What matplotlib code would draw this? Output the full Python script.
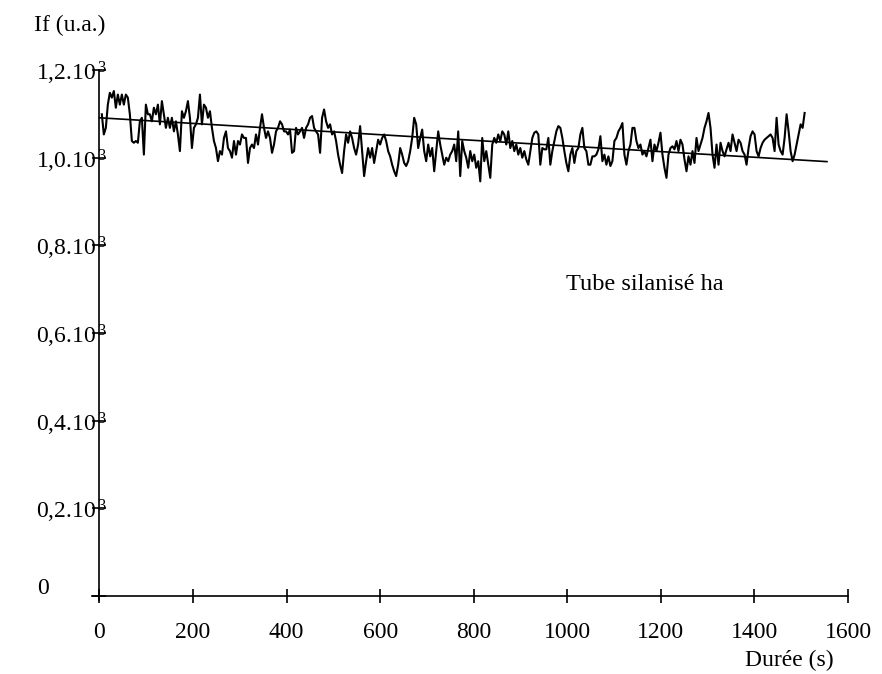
import matplotlib
matplotlib.use('Agg')
import matplotlib.pyplot as plt
from matplotlib.transforms import blended_transform_factory
import numpy as np

plt.rcParams['font.family'] = ['Liberation Serif', 'DejaVu Serif']
plt.rcParams['mathtext.fontset'] = 'custom'
plt.rcParams['mathtext.rm'] = 'Liberation Serif'
plt.rcParams['mathtext.it'] = 'Liberation Serif:italic'

# measured fluorescence, one reading every ~4.28 s starting at 5 s
t_start = 5.0
t_step = 4.28
intensity = [
    1099, 1053, 1068, 1121, 1148, 1137, 1152, 1114, 1144, 1121,
    1144, 1121, 1144, 1137, 1099, 1038, 1034, 1038, 1034, 1083,
    1091, 1007, 1121, 1099, 1099, 1083, 1114, 1099, 1121, 1076,
    1129, 1099, 1068, 1091, 1068, 1091, 1060, 1083, 1053, 1015,
    1106, 1091, 1106, 1129, 1091, 1022, 1068, 1076, 1091, 1144,
    1076, 1121, 1114, 1091, 1106, 1068, 1038, 1022, 992, 1015,
    1007, 1045, 1060, 1022, 1015, 1000, 1038, 1007, 1038, 1030,
    1053, 1045,
    1045, 988, 1022, 1030, 1022, 1053, 1030, 1068, 1099, 1068,
    1045, 1060, 1045, 1011, 1030, 1060, 1068, 1083, 1076, 1060,
    1060, 1053, 1064, 1011, 1015, 1068, 1053, 1060, 1068, 1045,
    1068, 1076, 1091, 1095, 1068, 1060, 1053, 1011, 1091, 1110,
    1083, 1068, 1076, 1053, 1060, 1038, 1007, 984, 965, 1015,
    1053, 1034, 1060, 1045, 1022, 1007, 1030, 1072, 1015, 958,
    992, 1022, 1000, 1022, 988, 1015, 1041, 1030, 1045, 1053,
    1038,
    1015, 1003, 984, 969, 958, 984, 1022, 1007, 988, 981,
    992, 1015, 1045, 1091, 1076, 1022, 1045, 1064, 1015, 992,
    1030, 1003, 1022, 969, 1015, 1060, 1030, 1007, 984, 1000,
    992, 1007, 1015, 1030, 992, 1060, 958, 1038, 1015, 1000,
    977, 1015, 992, 1007, 977, 992, 946, 1045, 992, 1015,
    984, 954, 1030, 1045, 1034, 1053, 1038, 1060, 1053, 1030,
    1060, 1022, 1038, 1015, 1030, 1007, 1022, 1000, 1015, 996,
    984,
    1015, 1045, 1057, 1060, 1053, 984, 1022, 1019, 1019, 1045,
    984, 1015, 1038, 1060, 1072, 1068, 1045, 1015, 988, 969,
    1007, 1022, 988, 1015, 1022, 1053, 1068, 1022, 1015, 984,
    984, 1003, 1003, 1007, 1019, 1049, 992, 1007, 984, 1003,
    981, 992, 1038, 1045, 1060, 1068, 1079, 1007, 984, 1015,
    1030, 1068, 1068, 1038, 1022, 1030, 1007, 1015, 1003, 1022,
    1041, 992, 1030, 1015, 1034, 1057, 1007, 977, 954, 1007,
    1022,
    1026, 1019, 1038, 1015, 1041, 1030, 996, 969, 1003, 984,
    1015, 988, 1045, 1015, 1030, 1045, 1068, 1083, 1102, 1068,
    1007, 977, 1030, 984, 1034, 1015, 1003, 1019, 1034, 1015,
    1053, 1034, 1015, 1041, 1034, 1015, 1007, 984, 1022, 1049,
    1060, 1053, 1015, 1003, 1022, 1034, 1041, 1045, 1049, 1053,
    1045, 1015, 1091, 1030, 1015, 1007, 1045, 1099, 1060, 1015,
    992, 1007, 1030, 1053, 1076, 1068, 1102,
]
time = t_start + t_step * np.arange(len(intensity))

# linear fit drawn in the figure
fit_time = [0, 1555]
fit_intensity = [1091, 991]

xticks = [0, 200, 400, 600, 800, 1000, 1200, 1400, 1600]
yticks = [0, 200, 400, 600, 800, 1000, 1200]
ylabels = ['', r'0,2.10$^{\,3}$', r'0,4.10$^{\,3}$', r'0,6.10$^{\,3}$',
           r'0,8.10$^{\,3}$', r'1,0.10$^{\,3}$', r'1,2.10$^{\,3}$']

fig = plt.figure(figsize=(8.82, 6.74), dpi=100)
ax = fig.add_axes([92 / 882, 1 - 600 / 674, (848 - 92) / 882, (600 - 70) / 674])

ax.plot(time, intensity, color='black', lw=1.5)
ax.plot(fit_time, fit_intensity, color='black', lw=1.2)

ax.set_xlim(-16, 1600)
ax.set_ylim(-9, 1200)
ax.spines['top'].set_visible(False)
ax.spines['right'].set_visible(False)
ax.spines['left'].set_position(('data', 0))
ax.spines['bottom'].set_position(('data', 0))
ax.spines['left'].set_linewidth(1.2)
ax.spines['bottom'].set_linewidth(1.2)

ax.set_xticks(xticks)
ax.set_xticklabels([str(v) for v in xticks])
ax.set_yticks(yticks)
ax.set_yticklabels(ylabels, ha='left')
ax.tick_params(axis='both', direction='inout', length=10, width=1.2, labelsize=17)
ax.tick_params(axis='x', pad=14)
ax.tick_params(axis='y', pad=41)

# the zero label sits apart from the others
ax.text(43 / 882, 18, '0', transform=blended_transform_factory(fig.transFigure, ax.transData),
        ha='center', va='center', fontsize=17)

fig.text(34 / 882, 1 - 25 / 674, 'If (u.a.)', ha='left', va='center', fontsize=17)
fig.text(745 / 882, 1 - 660 / 674, 'Durée (s)', ha='left', va='center', fontsize=17)
ax.text(998, 710, 'Tube silanisé ha', ha='left', va='center', fontsize=17.5)

fig.savefig('out.png', dpi=100)
